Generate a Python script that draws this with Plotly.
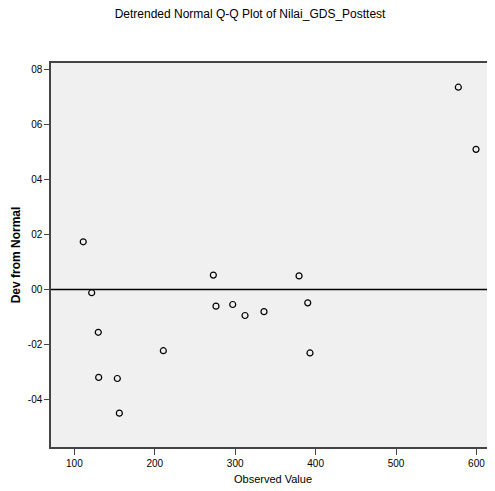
import plotly.graph_objects as go

observed = [111.0, 121.5, 129.7, 130.2, 153.4, 155.9, 210.6, 272.8, 276.1,
            296.9, 312.2, 335.8, 379.4, 390.2, 393.0, 577.5, 599.5]
dev = [0.0173, -0.0012, -0.0156, -0.0320, -0.0324, -0.0450, -0.0223, 0.0052,
       -0.0061, -0.0055, -0.0095, -0.0081, 0.0049, -0.0049, -0.0231, 0.0735, 0.0509]

x_ticks = [100, 200, 300, 400, 500, 600]
x_labels = ["100", "200", "300", "400", "500", "600"]
y_ticks = [0.08, 0.06, 0.04, 0.02, 0.0, -0.02, -0.04]
y_labels = ["08", "06", "04", "02", "00", "-02", "-04"]

font = "Liberation Sans Narrow, Liberation Sans, Arial"

fig = go.Figure()
fig.add_trace(go.Scatter(
    x=observed, y=dev, mode="markers",
    marker=dict(symbol="circle-open", size=6, color="black", line=dict(width=1.2)),
    showlegend=False, cliponaxis=False,
))
fig.add_hline(y=0, line=dict(color="black", width=1.5))

fig.update_layout(
    width=487, height=483,
    margin=dict(l=43, r=0, t=55, b=44),
    paper_bgcolor="white", plot_bgcolor="#f0f0f0",
    font=dict(family=font, color="black", size=10),
    title=dict(text="Detrended Normal Q-Q Plot of Nilai_GDS_Posttest",
               x=0.497, xanchor="center", y=0.987, yanchor="middle",
               font=dict(size=12, family=font)),
)
fig.update_xaxes(
    range=[70.9, 623.1], tickvals=x_ticks, ticktext=x_labels,
    showgrid=False, zeroline=False, showline=True, linecolor="#444", linewidth=1.5,
    mirror=True, ticks="outside", ticklen=6, tickcolor="#444",
    tickfont=dict(size=10),
    title=dict(text="Observed Value", font=dict(size=11), standoff=8),
)
fig.update_yaxes(
    range=[-0.0573, 0.0823], tickvals=y_ticks, ticktext=y_labels,
    showgrid=False, zeroline=False, showline=True, linecolor="#444", linewidth=1.5,
    mirror=False, ticks="outside", ticklen=5, tickcolor="#444",
    tickfont=dict(size=10),
    title=dict(text="<b>Dev from Normal</b>", font=dict(size=12, family="Liberation Sans, Arial"), standoff=5),
)
fig.write_html("out.html")
